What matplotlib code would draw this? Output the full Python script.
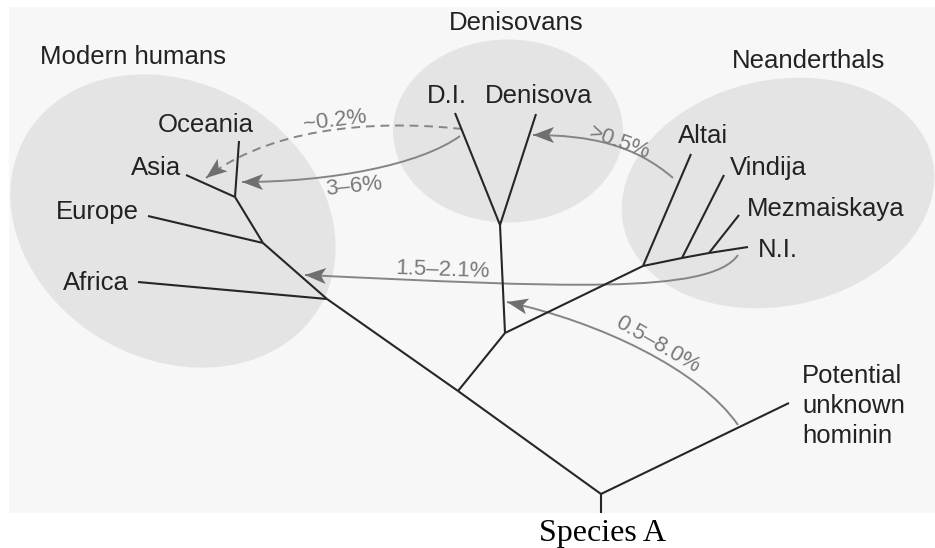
import matplotlib
matplotlib.use("Agg")
import matplotlib.pyplot as plt
from matplotlib.patches import Ellipse, PathPatch, Polygon, Rectangle
from matplotlib.path import Path

# everything is laid out in pixel units of the 935x548 picture (y grows downward)

# tree nodes
NODES = {
    "base": (601, 513), "root": (601, 494), "unknown": (789, 403),
    "archaic": (458, 391), "africa_n": (327, 299), "europe_n": (263, 243),
    "asia_n": (235, 197), "Africa": (138, 282), "Europe": (148, 216),
    "Asia": (186, 175), "Oceania": (239, 141),
    "den_nea": (505, 333), "den": (500, 225), "D.I.": (455, 113), "Denisova": (536, 114),
    "nea": (643, 266), "Altai": (691, 154), "vin_n": (682, 258), "Vindija": (724, 175),
    "mez_n": (709, 253), "Mezmaiskaya": (739, 215), "N.I.": (748, 247),
}
BRANCHES = [
    ("base", "root"), ("root", "unknown"), ("root", "archaic"), ("archaic", "africa_n"),
    ("africa_n", "europe_n"), ("europe_n", "asia_n"), ("africa_n", "Africa"),
    ("europe_n", "Europe"), ("asia_n", "Asia"), ("asia_n", "Oceania"),
    ("archaic", "den_nea"), ("den_nea", "den"), ("den", "D.I."), ("den", "Denisova"),
    ("den_nea", "nea"), ("nea", "Altai"), ("nea", "vin_n"), ("vin_n", "Vindija"),
    ("vin_n", "mez_n"), ("mez_n", "Mezmaiskaya"), ("mez_n", "N.I."),
]

# tip labels: text, left x, baseline y
TIP_LABELS = ["Oceania", "Asia", "Europe", "Africa", "D.I.", "Denisova",
              "Altai", "Vindija", "Mezmaiskaya", "N.I."]
TIP_X = [158, 131, 56, 63, 427, 485, 678, 730, 747, 758]
TIP_Y = [132, 175, 219, 290, 103, 103, 143, 175, 216, 257]
UNKNOWN_LINES = ["Potential", "unknown", "hominin"]
UNKNOWN_Y = [383, 413, 443]

# population groups: label, label centre x, baseline, ellipse (cx, cy, w, h, angle)
GROUPS = ["Modern humans", "Denisovans", "Neanderthals"]
GROUP_X = [133, 516, 808]
GROUP_Y = [64, 30, 68]
GROUP_ELLIPSES = [(173, 221, 340, 276, 30), (508, 131, 230, 183, 0), (778, 193, 316, 226, -12)]

# gene flow arrows: label, cubic control points (start -> arrow tip), label centre, angle, dashed
FLOW_LABELS = ["~0.2%", "3\u20136%", ">0.5%", "1.5\u20132.1%", "0.5\u20138.0%"]
FLOW_PATHS = [
    [(462, 129), (400, 122), (280, 120), (206, 178)],
    [(460, 136), (420, 165), (330, 182), (242, 182)],
    [(673, 178), (635, 145), (590, 135), (533, 135)],
    [(738, 255), (710, 295), (560, 287), (305, 275)],
    [(738, 425), (700, 370), (600, 322), (507, 302)],
]
FLOW_LABEL_XY = [(335, 121), (354, 187), (620, 143), (443, 270), (658, 345)]
FLOW_LABEL_ROT = [7, 6, -20, -2, -30]
FLOW_DASHED = [True, False, False, False, False]

TREE_COLOR = "#262626"
FLOW_COLOR = "#858585"
HEAD_COLOR = "#6f6f6f"
TEXT_COLOR = "#222222"
FLOW_TEXT = "#7a7a7a"
FONT = ["Liberation Sans", "DejaVu Sans"]


def arrow_head(ax, tip, back, length=21, half=8, notch=5):
    dx, dy = tip[0] - back[0], tip[1] - back[1]
    norm = (dx ** 2 + dy ** 2) ** 0.5
    ux, uy = dx / norm, dy / norm
    px, py = -uy, ux
    bx, by = tip[0] - ux * length, tip[1] - uy * length
    pts = [tip,
           (bx + px * half, by + py * half),
           (tip[0] - ux * (length - notch), tip[1] - uy * (length - notch)),
           (bx - px * half, by - py * half)]
    ax.add_patch(Polygon(pts, closed=True, color=HEAD_COLOR, lw=0, zorder=4))


def main() -> None:
    fig = plt.figure(figsize=(9.35, 5.48), dpi=100)
    ax = fig.add_axes([0, 0, 1, 1])
    ax.set_xlim(0, 935)
    ax.set_ylim(548, 0)
    ax.axis("off")

    ax.add_patch(Rectangle((9, 7), 926, 506, color="#f7f7f7", lw=0, zorder=0))
    for cx, cy, w, h, ang in GROUP_ELLIPSES:
        ax.add_patch(Ellipse((cx, cy), w, h, angle=ang, color="#e4e4e4", lw=0, zorder=1))
    for name, x, y in zip(GROUPS, GROUP_X, GROUP_Y):
        ax.text(x, y, name, ha="center", va="baseline", fontsize=18.5,
                color=TEXT_COLOR, family=FONT)

    for a, b in BRANCHES:
        (x0, y0), (x1, y1) = NODES[a], NODES[b]
        ax.plot([x0, x1], [y0, y1], color=TREE_COLOR, lw=1.5,
                solid_capstyle="butt", zorder=3)

    for name, x, y in zip(TIP_LABELS, TIP_X, TIP_Y):
        ax.text(x, y, name, ha="left", va="baseline", fontsize=18.5,
                color=TEXT_COLOR, family=FONT)
    for line, y in zip(UNKNOWN_LINES, UNKNOWN_Y):
        ax.text(802, y, line, ha="left", va="baseline", fontsize=18.5,
                color=TEXT_COLOR, family=FONT)

    for pts, label, (lx, ly), rot, dashed in zip(FLOW_PATHS, FLOW_LABELS, FLOW_LABEL_XY,
                                                 FLOW_LABEL_ROT, FLOW_DASHED):
        path = Path(pts, [Path.MOVETO, Path.CURVE4, Path.CURVE4, Path.CURVE4])
        ls = (0, (4.5, 3)) if dashed else "-"
        ax.add_patch(PathPatch(path, fill=False, edgecolor=FLOW_COLOR, lw=1.4,
                               linestyle=ls, zorder=2))
        arrow_head(ax, pts[3], pts[2])
        ax.text(lx, ly, label, ha="center", va="center", rotation=rot,
                rotation_mode="anchor", fontsize=16, color=FLOW_TEXT, family=FONT, zorder=5)

    ax.text(603, 541, "Species A", ha="center", va="baseline", fontsize=23,
            color="black", family=["Liberation Serif", "DejaVu Serif"])

    fig.savefig("out.png", dpi=100, facecolor="white")


if __name__ == "__main__":
    main()
